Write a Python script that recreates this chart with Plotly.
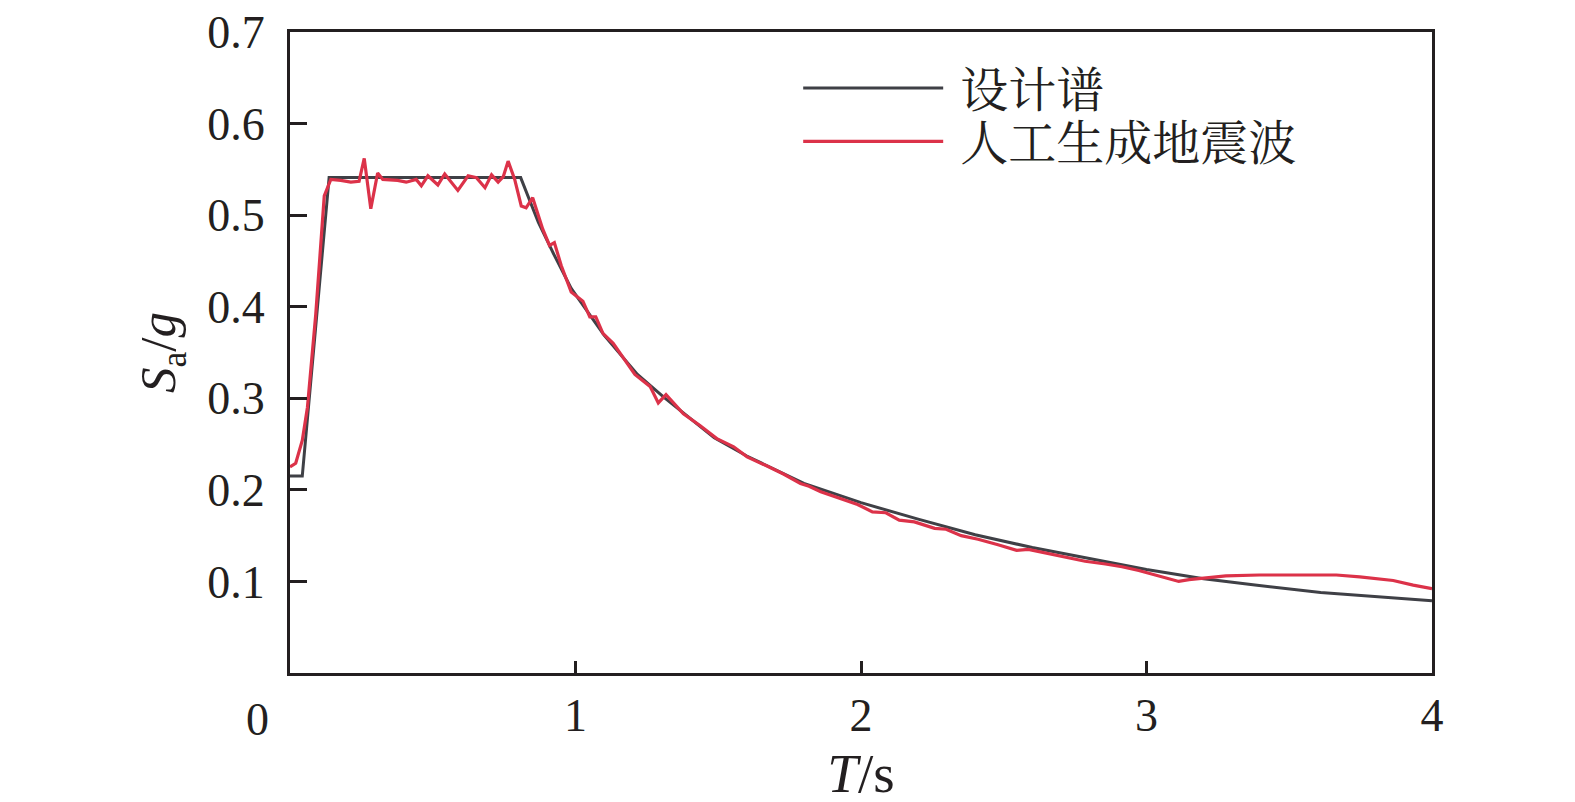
import plotly.graph_objects as go

# 设计谱 (design spectrum)
t_design = [0.0, 0.043, 0.137, 0.808, 0.87, 0.926, 0.985, 1.04, 1.1, 1.217, 1.31, 1.486,
            1.6, 1.8, 2.0, 2.2, 2.4, 2.6, 2.8, 3.0, 3.2, 3.38, 3.61, 3.85, 4.0]
sa_design = [0.215, 0.215, 0.541, 0.541, 0.492, 0.456, 0.420, 0.395, 0.369, 0.326, 0.301, 0.257,
             0.237, 0.207, 0.186, 0.168, 0.151, 0.137, 0.125, 0.113, 0.103, 0.096, 0.088, 0.082, 0.079]

# 人工生成地震波 (artificial wave response spectrum)
t_wave = [0.0, 0.02, 0.043, 0.061, 0.09, 0.12, 0.143, 0.178, 0.213, 0.242, 0.26, 0.283,
          0.307, 0.325, 0.377, 0.407, 0.442, 0.46, 0.483, 0.518, 0.542, 0.588, 0.624, 0.653,
          0.683, 0.706, 0.729, 0.747, 0.764, 0.787, 0.81, 0.827, 0.85, 0.885, 0.909, 0.926,
          0.95, 0.985, 1.026, 1.05, 1.071, 1.096, 1.132, 1.208, 1.261, 1.29, 1.317, 1.378,
          1.437, 1.495, 1.554, 1.601, 1.671, 1.73, 1.788, 1.818, 1.859, 1.906, 1.947, 1.988,
          2.04, 2.087, 2.134, 2.187, 2.258, 2.298, 2.351, 2.41, 2.48, 2.545, 2.586, 2.644,
          2.715, 2.785, 2.856, 2.914, 2.973, 3.02, 3.067, 3.113, 3.149, 3.184, 3.278, 3.395,
          3.571, 3.665, 3.747, 3.864, 3.934, 4.0]
sa_wave = [0.225, 0.229, 0.254, 0.290, 0.391, 0.521, 0.539, 0.538, 0.536, 0.537, 0.562, 0.507,
           0.546, 0.539, 0.538, 0.536, 0.539, 0.532, 0.543, 0.533, 0.545, 0.527, 0.543, 0.541,
           0.530, 0.544, 0.536, 0.542, 0.559, 0.539, 0.510, 0.508, 0.519, 0.485, 0.467, 0.470,
           0.445, 0.416, 0.406, 0.389, 0.389, 0.371, 0.360, 0.326, 0.313, 0.295, 0.304, 0.283,
           0.270, 0.256, 0.247, 0.236, 0.226, 0.217, 0.207, 0.204, 0.198, 0.193, 0.188, 0.184,
           0.176, 0.175, 0.167, 0.165, 0.158, 0.157, 0.150, 0.146, 0.140, 0.134, 0.135, 0.131,
           0.126, 0.122, 0.119, 0.116, 0.112, 0.108, 0.104, 0.100, 0.102, 0.103, 0.106, 0.107,
           0.107, 0.107, 0.105, 0.101, 0.096, 0.092]

x_ticks = [1, 2, 3, 4]
y_ticks = [0.1, 0.2, 0.3, 0.4, 0.5, 0.6, 0.7]

FONT = "Liberation Serif, Noto Serif CJK SC, Noto Sans CJK SC, serif"

fig = go.Figure()
fig.add_trace(go.Scatter(x=t_design, y=sa_design, mode="lines", name=" 设计谱",
                         line=dict(color="#3f4046", width=3), legend="legend"))
fig.add_trace(go.Scatter(x=t_wave, y=sa_wave, mode="lines", name=" 人工生成地震波",
                         line=dict(color="#dc3249", width=3.2), legend="legend2"))

leg = dict(x=0.445, xanchor="left", yanchor="middle", bgcolor="rgba(0,0,0,0)",
           itemwidth=140, font=dict(size=48, family=FONT))

fig.update_layout(
    width=1575, height=802,
    margin=dict(l=282, r=151, t=24, b=137, autoexpand=False),
    plot_bgcolor="white", paper_bgcolor="white",
    font=dict(family=FONT, size=46, color="#231f20"),
    showlegend=True,
    legend=dict(leg, y=0.912),
    legend2=dict(leg, y=0.829),
)
fig.update_xaxes(range=[0, 4], tickvals=x_ticks, ticktext=[str(v) for v in x_ticks],
                 ticks="inside", ticklen=12, tickwidth=3, tickcolor="#231f20",
                 showline=True, linecolor="#231f20", linewidth=3, mirror=True,
                 showgrid=False, zeroline=False, ticklabeloverflow="allow",
                 title=dict(text="<i>T</i>/s", standoff=14))
fig.update_yaxes(range=[0, 0.7], tickvals=y_ticks, ticktext=[f"{v:.1f}" for v in y_ticks],
                 ticks="inside", ticklen=17, tickwidth=3, tickcolor="#231f20",
                 showline=True, linecolor="#231f20", linewidth=3, mirror=True,
                 showgrid=False, zeroline=False, ticklabelstandoff=13,
                 ticklabeloverflow="allow",
                 title=dict(text="<i>S</i><sub>a</sub>/<i>g</i>", standoff=16,
                            font=dict(size=51, family=FONT)))

fig.add_annotation(x=0, y=0, xref="x", yref="y", text="0", showarrow=False,
                   xanchor="center", yanchor="top", xshift=-33, yshift=-19,
                   font=dict(size=46, family=FONT))

fig.write_html("out.html")
